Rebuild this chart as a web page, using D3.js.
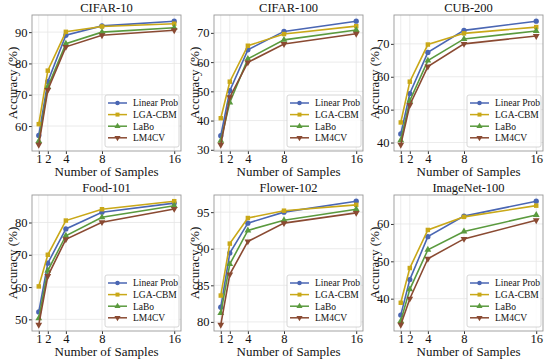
<!DOCTYPE html>
<html>
<head>
<script src="https://d3js.org/d3.v7.min.js"></script>
<style>
  body { margin: 0; background: #fff; }
  svg { display: block; }
  svg text { font-family: "Liberation Serif", "Times New Roman", Times, serif; fill: #111; }
</style>
</head>
<body>
<svg width="550" height="362"></svg>
<script>
// shots per class
const samples = [1, 2, 4, 8, 16];
const methods = ["Linear Prob", "LGA-CBM", "LaBo", "LM4CV"];
const colors = ["#4a66b3", "#c9a818", "#5a9a3e", "#8a4a32"];
const datasets = ["CIFAR-10", "CIFAR-100", "CUB-200", "Food-101", "Flower-102", "ImageNet-100"];

// accuracy values, one array per dataset, rows follow methods order
const cifar10 = [
  [57.0, 74.2, 89.0, 92.0, 93.5],
  [60.6, 77.7, 90.1, 91.8, 92.7],
  [55.2, 72.5, 86.3, 90.0, 91.4],
  [54.0, 71.5, 85.3, 89.0, 90.6]
];
const cifar100 = [
  [34.8, 50.2, 64.2, 70.5, 74.0],
  [40.8, 53.3, 65.6, 69.6, 72.3],
  [33.1, 46.2, 61.1, 67.6, 71.0],
  [31.7, 48.0, 59.9, 66.2, 69.7]
];
const cub200 = [
  [42.6, 54.9, 67.4, 74.1, 76.9],
  [46.1, 58.5, 69.8, 73.2, 75.1],
  [40.7, 52.7, 64.9, 71.5, 73.9],
  [39.3, 51.4, 63.1, 70.0, 72.4]
];
const food101 = [
  [52.3, 67.4, 78.0, 83.2, 86.0],
  [60.2, 70.0, 80.6, 84.1, 86.6],
  [50.3, 65.1, 75.9, 81.6, 85.2],
  [48.3, 63.4, 74.8, 80.1, 84.2]
];
const flower102 = [
  [82.0, 89.4, 93.5, 95.0, 96.5],
  [83.6, 90.7, 94.2, 95.2, 96.0],
  [81.2, 87.9, 92.5, 93.9, 95.4],
  [79.6, 86.5, 91.0, 93.5, 94.9]
];
const imagenet100 = [
  [35.6, 45.1, 56.6, 62.1, 66.1],
  [38.9, 48.2, 58.4, 61.9, 64.9],
  [34.0, 42.5, 53.1, 58.0, 62.4],
  [33.0, 40.0, 50.7, 56.0, 61.0]
];
const allValues = [cifar10, cifar100, cub200, food101, flower102, imagenet100];

// y tick labels for each panel
const yTicks = [
  [60, 70, 80, 90],
  [30, 40, 50, 60, 70],
  [40, 50, 60, 70],
  [50, 60, 70, 80],
  [80, 85, 90, 95],
  [40, 50, 60]
];

const svg = d3.select("svg");
const colLeft = [32, 214, 394];
const plotW = 149;
const rowTop = [15, 195];
const plotH = 136;
const markers = [d3.symbolCircle, d3.symbolSquare, d3.symbolTriangle, d3.symbolTriangle];
const serif = '"Liberation Serif", "Times New Roman", Times, serif';

datasets.forEach((name, p) => {
  const col = p % 3, row = Math.floor(p / 3);
  const vals = allValues[p];
  const g = svg.append("g").attr("transform", `translate(${colLeft[col]},${rowTop[row]})`);

  // matplotlib style 5% margins
  const x = d3.scaleLinear().domain([1 - 0.75, 16 + 0.75]).range([0, plotW]);
  const ext = d3.extent(vals.flat());
  const pad = (ext[1] - ext[0]) * 0.05;
  const y = d3.scaleLinear().domain([ext[0] - pad, ext[1] + pad]).range([plotH, 0]);

  // grid
  g.append("g").selectAll("line").data(samples).join("line")
    .attr("x1", d => x(d)).attr("x2", d => x(d)).attr("y1", 0).attr("y2", plotH)
    .attr("stroke", "#e6e6e6").attr("stroke-width", 0.8);
  g.append("g").selectAll("line").data(yTicks[p]).join("line")
    .attr("y1", d => y(d)).attr("y2", d => y(d)).attr("x1", 0).attr("x2", plotW)
    .attr("stroke", "#e6e6e6").attr("stroke-width", 0.8);

  // axes
  const xAxis = g.append("g").attr("transform", `translate(0,${plotH})`)
    .call(d3.axisBottom(x).tickValues(samples).tickSize(3).tickPadding(0.5));
  const yAxis = g.append("g")
    .call(d3.axisLeft(y).tickValues(yTicks[p]).tickSize(3).tickPadding(1.5));
  [xAxis, yAxis].forEach(a => {
    a.attr("font-family", serif).attr("font-size", 12.5);
    a.select(".domain").remove();
    a.selectAll("line").attr("stroke", "#333");
    a.selectAll("text").attr("fill", "#111");
  });

  g.append("rect").attr("width", plotW).attr("height", plotH)
    .attr("fill", "none").attr("stroke", "#999").attr("stroke-width", 0.9);

  // lines + markers
  const line = d3.line().x((d, i) => x(samples[i])).y(d => y(d));
  vals.forEach((series, m) => {
    g.append("path").datum(series).attr("d", line)
      .attr("fill", "none").attr("stroke", colors[m]).attr("stroke-width", 1.6);
    g.append("g").selectAll("path").data(series).join("path")
      .attr("transform", (d, i) => `translate(${x(samples[i])},${y(d)})${m === 3 ? " rotate(180)" : ""}`)
      .attr("d", d3.symbol().type(markers[m]).size(m === 0 ? 22 : 20))
      .attr("fill", colors[m]);
  });

  // title and labels
  g.append("text").attr("x", plotW / 2).attr("y", -3).attr("text-anchor", "middle")
    .attr("font-size", 12.5).text(name);
  g.append("text").attr("x", plotW / 2).attr("y", plotH + 25).attr("text-anchor", "middle")
    .attr("font-size", 13).text("Number of Samples");
  g.append("text").attr("transform", `translate(-15,${plotH / 2}) rotate(-90)`)
    .attr("text-anchor", "middle").attr("font-size", 13).text("Accuracy (%)");

  // legend
  const lg = g.append("g").attr("transform", `translate(${plotW - 76},${plotH - 56})`);
  lg.append("rect").attr("width", 74).attr("height", 52).attr("rx", 2)
    .attr("fill", "#fff").attr("fill-opacity", 0.85).attr("stroke", "#ccc").attr("stroke-width", 0.8);
  methods.forEach((mName, m) => {
    const ly = 8 + m * 11.6;
    lg.append("line").attr("x1", 3).attr("x2", 22).attr("y1", ly).attr("y2", ly)
      .attr("stroke", colors[m]).attr("stroke-width", 1.5);
    lg.append("path").attr("transform", `translate(12.5,${ly})${m === 3 ? " rotate(180)" : ""}`)
      .attr("d", d3.symbol().type(markers[m]).size(16)).attr("fill", colors[m]);
    lg.append("text").attr("x", 28).attr("y", ly + 3.3).attr("font-size", 9.5).text(mName);
  });
});
</script>
</body>
</html>
